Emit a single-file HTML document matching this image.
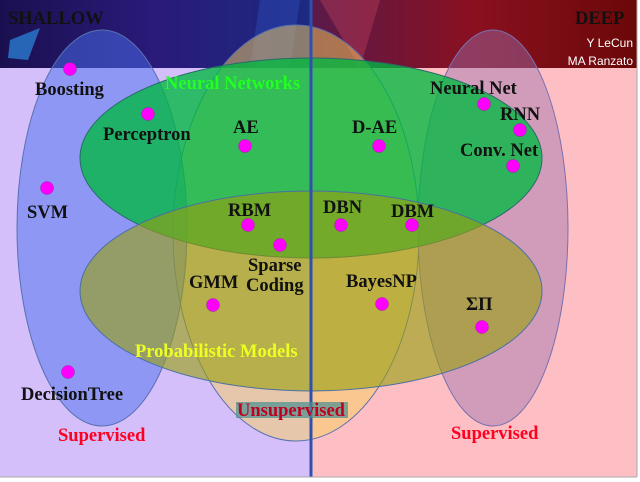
<!DOCTYPE html>
<html><head><meta charset="utf-8"><style>
html,body{margin:0;padding:0;background:#fff}
svg{display:block}
text{font-family:"Liberation Serif",serif;font-weight:bold;font-size:18.5px}
</style></head><body>
<svg width="640" height="482" viewBox="0 0 640 482">
<defs>
<linearGradient id="bl" x1="0" y1="0" x2="1" y2="0">
<stop offset="0" stop-color="#1a1050"/><stop offset="0.5" stop-color="#2a1a7a"/><stop offset="1" stop-color="#1c2a80"/></linearGradient>
<linearGradient id="br" x1="0" y1="0" x2="1" y2="0">
<stop offset="0" stop-color="#5a1a4a"/><stop offset="0.5" stop-color="#8a1020"/><stop offset="1" stop-color="#6a0808"/></linearGradient>
</defs>
<rect x="0" y="0" width="640" height="482" fill="#fff"/>
<rect x="0" y="0" width="311" height="477" fill="#d4bffb"/>
<rect x="311" y="0" width="326" height="477" fill="#fdbfc4"/>
<rect x="0" y="0" width="311" height="68" fill="url(#bl)"/>
<rect x="311" y="0" width="326" height="68" fill="url(#br)"/>
<polygon points="10,40 40,28 28,60 8,58" fill="#2a7ad0" opacity="0.8"/>
<polygon points="260,0 300,0 290,68 250,68" fill="#3050c0" opacity="0.4"/>
<polygon points="320,0 380,0 360,68" fill="#c04060" opacity="0.4"/>
<ellipse cx="296" cy="233" rx="123" ry="208" fill="#f8cf5e" fill-opacity="0.5" stroke="#5a70b0" stroke-width="1"/>
<ellipse cx="102" cy="228" rx="85" ry="198" fill="#4a70f0" fill-opacity="0.5" stroke="#5a70b0" stroke-width="1"/>
<ellipse cx="493" cy="228" rx="75" ry="198" fill="#9a70b0" fill-opacity="0.45" stroke="#7a70b0" stroke-width="1"/>
<ellipse cx="311" cy="158" rx="231" ry="100" fill="#00b840" fill-opacity="0.78" stroke="#2a6a6a" stroke-width="1"/>
<ellipse cx="311" cy="291" rx="231" ry="100" fill="#98a010" fill-opacity="0.62" stroke="#4a70a0" stroke-width="1"/>
<line x1="311" y1="0" x2="311" y2="477" stroke="#3050b0" stroke-width="3"/>
<rect x="0" y="477" width="640" height="5" fill="#fff"/>
<line x1="0" y1="477" x2="637" y2="477" stroke="#aaa" stroke-width="1"/>
<line x1="637" y1="0" x2="637" y2="477" stroke="#aaa" stroke-width="1"/>
<g fill="#ff00ff" stroke="#a020a0" stroke-width="0.5">
<circle cx="70" cy="69" r="6.5"/><circle cx="148" cy="114" r="6.5"/><circle cx="245" cy="146" r="6.5"/>
<circle cx="379" cy="146" r="6.5"/><circle cx="484" cy="104" r="6.5"/><circle cx="520" cy="130" r="6.5"/>
<circle cx="513" cy="166" r="6.5"/><circle cx="47" cy="188" r="6.5"/><circle cx="248" cy="225" r="6.5"/>
<circle cx="280" cy="245" r="6.5"/><circle cx="341" cy="225" r="6.5"/><circle cx="412" cy="225" r="6.5"/>
<circle cx="213" cy="305" r="6.5"/><circle cx="382" cy="304" r="6.5"/><circle cx="482" cy="327" r="6.5"/>
<circle cx="68" cy="372" r="6.5"/>
</g>
<g fill="#111">
<text x="35" y="95">Boosting</text>
<text x="103" y="140">Perceptron</text>
<text x="233" y="133">AE</text>
<text x="352" y="133">D-AE</text>
<text x="430" y="94">Neural Net</text>
<text x="500" y="120">RNN</text>
<text x="460" y="156">Conv. Net</text>
<text x="27" y="218">SVM</text>
<text x="228" y="216">RBM</text>
<text x="323" y="213">DBN</text>
<text x="391" y="217">DBM</text>
<text x="248" y="271">Sparse</text>
<text x="246" y="291">Coding</text>
<text x="189" y="288">GMM</text>
<text x="346" y="287">BayesNP</text>
<text x="466" y="310">ΣΠ</text>
<text x="21" y="400">DecisionTree</text>
<text x="8" y="24" font-size="19" fill="#111">SHALLOW</text>
<text x="575" y="24" font-size="19" fill="#111">DEEP</text>
</g>
<text x="165" y="89" fill="#22ff22" font-size="17.5">Neural Networks</text>
<text x="135" y="357" fill="#eeff22" font-size="17.5">Probabilistic Models</text>
<rect x="236" y="402" width="112" height="16" fill="#4a9090" opacity="0.7"/>
<text x="237" y="416" fill="#c00020" font-size="18">Unsupervised</text>
<text x="58" y="441" fill="#ff0020">Supervised</text>
<text x="451" y="439" fill="#ff0020">Supervised</text>
<text x="633" y="47" text-anchor="end" style="font-family:'Liberation Sans',sans-serif;font-weight:normal;font-size:12px" fill="#fff">Y LeCun</text>
<text x="633" y="65" text-anchor="end" style="font-family:'Liberation Sans',sans-serif;font-weight:normal;font-size:12px" fill="#fff">MA Ranzato</text>
</svg>
</body></html>
